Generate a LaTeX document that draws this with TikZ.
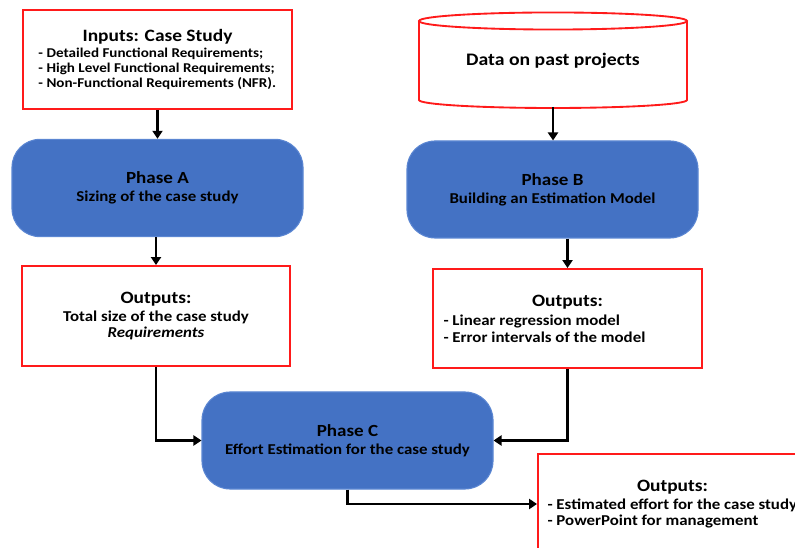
\documentclass[tikz,border=0pt]{standalone}
\usepackage{fontspec}
\setmainfont{Carlito}[FakeStretch=1.12]
\usetikzlibrary{arrows.meta}
\definecolor{phblue}{HTML}{4472C4}
\definecolor{phline}{HTML}{5B86D2}
\definecolor{boxred}{HTML}{FF1A1A}
\newcommand\hdl[2]{\makebox[#1]{\fontsize{13}{13}\selectfont #2}}
\newcommand\lil[2]{\makebox[#1][l]{#2}}
\begin{document}
\begin{tikzpicture}[x=0.75pt,y=-0.75pt,
  redbox/.style={draw=boxred, line width=1.4pt, fill=white, inner sep=0pt, align=center,
    font=\bfseries\fontsize{11.3}{12.5}\selectfont},
  phasebox/.style={fill=phblue, draw=phline, line width=0.8pt, rounded corners=21pt,
    minimum width=218.25pt, minimum height=73pt, inner sep=0pt, align=center,
    font=\bfseries\fontsize{11.3}{12.5}\selectfont},
  arr/.style={-{Triangle[width=7.5pt,length=6pt]}, line width=1.9pt, black}]
\useasboundingbox (0,0) rectangle (795,548);

% input box
\node[redbox, minimum width=201.75pt, minimum height=74.25pt,
  font=\bfseries\fontsize{10.1}{11.25}\selectfont] (inp) at (157.5,59.5)
  {\hdl{178.5pt}{Inputs: Case Study}\\[1pt]
   \lil{178.5pt}{- Detailed Functional Requirements;}\\
   \lil{178.5pt}{- High Level Functional Requirements;}\\
   \lil{178.5pt}{- Non-Functional Requirements (NFR).}};

% database cylinder
\draw[boxred, line width=1.4pt, fill=white]
  (419,21) -- (419,100) arc[start angle=180, end angle=360, x radius=100.5pt, y radius=6pt]
  -- (687,21);
\draw[boxred, line width=1.4pt, fill=white] (553,21) ellipse[x radius=100.5pt, y radius=6.4pt];
\node[font=\bfseries\fontsize{13.2}{14}\selectfont] (db) at (553,61) {Data on past projects};
\coordinate (dbbot) at (553,107);

% phases
\node[phasebox] (pa) at (157.5,188)
  {{\fontsize{12.75}{13}\selectfont Phase A}\\[1pt] Sizing of the case study};
\node[phasebox, minimum height=72.75pt] (pb) at (552.5,189.5)
  {{\fontsize{12.75}{13}\selectfont Phase B}\\[1pt] Building an Estimation Model};
\node[phasebox, minimum height=72.75pt] (pc) at (347.5,440.5)
  {{\fontsize{12.75}{13}\selectfont Phase C}\\[1pt] Effort Estimation for the case study};

% outputs
\node[redbox, minimum width=201pt, minimum height=75pt] (oa) at (156,316)
  {{\fontsize{13}{13}\selectfont Outputs:}\\[1pt]
   Total size of the case study\\
   \textit{Requirements}};
\node[redbox, minimum width=201.75pt, minimum height=74.25pt] (ob) at (567.5,318.5)
  {\hdl{186pt}{Outputs:}\\[2pt]
   \lil{186pt}{- Linear regression model}\\
   \lil{186pt}{- Error intervals of the model}};
\node[redbox, minimum width=201.75pt, minimum height=75pt] (oc) at (672.5,504)
  {\hdl{187.5pt}{Outputs:}\\[1pt]
   \lil{187.5pt}{- Estimated effort for the case study}\\
   \lil{187.5pt}{- PowerPoint for management}};

% connectors
\draw[arr] (inp.south -| pa.north) -- (pa.north);
\draw[arr] (dbbot) -- (dbbot |- pb.north);
\draw[arr] (oa.north |- pa.south) -- (oa.north);
\draw[arr] (ob.north |- pb.south) -- (ob.north);
\draw[arr] (oa.south) |- (pc.west);
\draw[arr] (ob.south) |- (pc.east);
\draw[arr] (pc.south) |- (oc.west);
\end{tikzpicture}
\end{document}
